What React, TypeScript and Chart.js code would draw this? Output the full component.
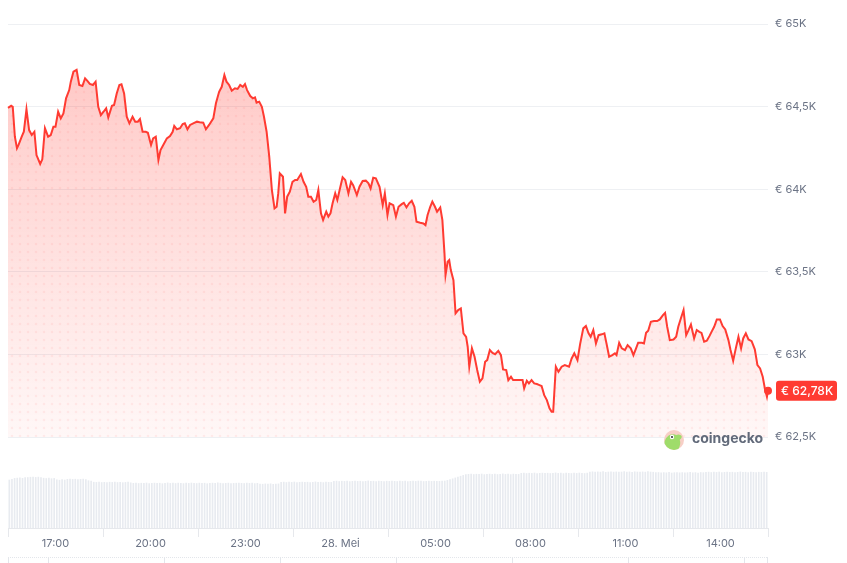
import React, { useEffect, useRef } from "react";
import { Chart, registerables } from "chart.js";

Chart.register(...registerables);

// minutes after 27 May 15:30
const times: number[] = [
  0,6,9,13,17,20,26,30,35,40,45,50,54,61,65,70,76,81,86,90,95,100,105,110,116,119,124,130,135,141,
  146,150,155,161,166,171,176,181,186,190,197,201,206,211,215,220,225,230,236,241,246,250,255,261,265,271,275,280,285,289,
  296,301,307,312,315,320,326,331,335,340,345,351,358,363,
  370,375,381,389,394,400,405,410,414,419,424,430,435,440,445,449,453,459,464,468,471,476,481,485,490,495,500,505,509,512,
  515,521,525,529,534,539,544,548,555,560,565,569,574,579,584,588,593,597,603,607,611,615,620,624,629,634,639,645,650,654,
  661,666,672,678,683,687,692,697,704,710,714,719,723,
  730,735,740,746,750,755,760,765,770,774,781,787,791,795,800,804,809,813,819,823,827,829,833,836,839,844,848,853,858,863,
  868,871,874,879,884,889,894,899,904,908,913,918,923,929,934,938,944,948,953,957,964,970,975,978,983,987,992,997,1002,1007,
  1011,1016,1021,1026,1030,1033,1038,1043,1049,1055,1063,1068,1073,1079,1084,
  1090,1095,1100,1104,1109,1114,1119,1125,1130,1134,1139,1145,1150,1153,1158,1163,1169,1174,1180,1185,
  1190,1194,1201,1205,1209,1213,1218,1224,1230,1235,1241,1245,1249,1254,1261,1266,1270,1275,1280,1285,
  1289,1294,1300,1305,1310,1314,1319,1324,1329,1333,1338,1343,1349,1354,1359,1365,1369,1374,1379,1384,
  1389,1393,1398,1403,1409,1415,1420,1425,1430,1434,1438,1440,
];

// BTC price in EUR
const prices: number[] = [
  64493,64505,64499,64318,64248,64268,64318,64348,64484,64358,64328,64348,64207,64153,64181,64369,64318,64328,64378,64378,
  64469,64429,64459,64550,64600,64651,64711,64722,64631,64625,64671,64657,64637,64631,64651,64499,64449,64469,64490,64435,
  64505,64510,64580,64631,64635,64580,64439,64399,64439,64409,64409,64425,64348,64348,64342,64268,64308,64318,64177,64237,
  64278,64308,64322,64348,64383,64363,64369,64395,64399,64363,64389,64399,64409,64405,
  64403,64363,64389,64429,64520,64590,64620,64691,64651,64631,64596,64611,64607,64631,64620,64637,64600,64564,64550,64556,
  64524,64530,64499,64439,64348,64197,63995,63884,63894,63975,64096,64076,63854,63955,63985,64045,64056,64056,64092,64045,
  64015,63955,63955,63924,63935,63995,63854,63814,63864,63834,63854,63915,63975,63935,64005,64072,64056,63975,64045,64025,
  63965,64015,64050,64052,64036,64005,64070,64066,64015,63904,63975,63844,63915,
  63904,63834,63894,63910,63918,63890,63915,63930,63894,63803,63797,63793,63783,63844,63894,63925,63894,63864,63890,63814,
  63612,63481,63561,63571,63511,63450,63249,63269,63279,63128,63107,63047,62926,63037,62986,62906,62835,62855,62956,62966,
  63027,63010,63002,63022,62996,62910,62906,62845,62865,62845,62845,62845,62845,62795,62841,62825,62845,62825,62821,62815,
  62809,62754,62724,62674,62653,62653,62926,62895,62926,62936,62926,62976,63007,62966,63063,
  63158,63172,63128,63107,63148,63067,63117,63122,63128,63067,62986,62996,63007,62996,63071,63037,63027,63057,63037,62996,
  63037,63071,63071,63067,63131,63144,63198,63202,63202,63212,63238,63252,63168,63087,63091,63107,63168,63219,63269,63117,
  63144,63182,63097,63148,63137,63131,63077,63083,63111,63137,63168,63212,63212,63172,63152,63087,63027,62962,63037,63107,
  63037,63097,63128,63091,63081,63031,62936,62916,62865,62795,62744,62780,
];

// 5-minute volume bars (relative units)
const volumes: number[] = [
  48.0,48.6,
  49.6,49.9,50.1,49.7,50.3,50.5,
  50.8,51.0,50.6,50.9,50.4,
  49.8,49.5,49.9,49.3,49.6,
  48.2,47.8,48.3,48.0,
  48.7,48.9,48.6,48.8,48.4,48.7,48.9,48.3,
  47.3,47.0,
  45.8,45.6,45.9,45.5,45.7,45.4,45.8,45.6,46.0,45.5,45.7,45.3,45.6,45.8,45.2,
  44.7,44.9,44.5,44.8,44.6,45.0,44.4,44.7,44.9,44.6,
  44.8,44.3,44.7,45.1,44.6,44.8,44.5,44.9,44.7,44.4,
  44.8,44.6,45.0,44.7,44.5,44.9,44.6,44.8,44.3,44.7,
  44.9,44.6,45.2,44.8,44.5,44.7,44.9,44.4,44.6,44.8,
  45.0,44.7,44.5,44.9,44.6,44.8,44.4,44.7,
  44.0,43.8,44.1,43.9,44.2,43.7,44.0,44.1,
  45.7,45.9,45.5,45.8,45.6,46.0,45.4,45.7,45.9,45.6,45.8,45.5,45.7,46.1,45.6,45.8,45.4,45.9,45.7,45.6,
  46.7,46.9,46.5,46.8,46.6,47.0,46.4,46.7,46.9,46.6,
  46.8,46.5,46.7,47.1,46.6,46.8,46.4,46.9,46.7,46.5,
  46.8,46.6,47.0,46.7,46.5,46.9,46.6,46.8,46.4,46.7,
  46.9,46.6,47.0,46.8,46.5,46.7,46.9,46.6,46.8,46.7,
  46.6,46.9,
  47.0,47.6,48.3,49.2,50.1,51.0,51.8,52.6,53.3,
  53.7,53.9,53.5,53.8,53.6,54.0,53.4,53.7,53.9,53.6,53.8,53.5,53.7,54.1,53.6,53.8,53.4,53.9,53.7,53.6,
  54.7,54.9,54.5,54.8,54.6,55.0,54.4,54.7,54.9,54.6,
  54.8,54.5,54.7,55.1,54.6,54.8,54.4,54.9,54.7,54.5,
  54.8,54.6,55.0,54.7,54.5,54.9,
  56.0,56.2,55.8,56.1,55.9,56.3,55.7,56.0,56.2,55.9,
  56.1,55.8,56.0,56.4,55.9,56.1,55.7,56.2,56.0,55.8,
  56.1,55.9,56.3,56.0,55.8,
  55.3,55.5,55.1,55.4,55.2,55.6,55.0,55.3,55.5,55.2,55.4,55.1,55.3,55.7,55.2,55.4,55.0,55.5,55.3,
  55.7,55.9,55.5,55.8,55.6,56.0,55.4,55.7,55.9,55.6,55.8,55.5,55.7,56.1,55.6,55.8,55.4,55.9,55.7,55.5,
  55.8,55.6,55.9,55.7,
];

const xTickMinutes: number[] = [90, 270, 450, 630, 810, 990, 1170, 1350];
const xTickLabels: string[] = ["17:00", "20:00", "23:00", "28. Mei", "05:00", "08:00", "11:00", "14:00"];
const yTickValues: number[] = [62500, 63000, 63500, 64000, 64500, 65000];
const navTickMinutes: number[] = [75, 295, 515, 735, 955, 1175, 1395];

const RED = "rgb(255,59,50)";
const LABEL = "#6b7385";

function fmtK(v: number, digits?: number): string {
  const k = v / 1000;
  const s = digits === undefined ? String(k) : k.toFixed(digits);
  return "€ " + s.replace(".", ",") + "K";
}

export default function App() {
  const ref = useRef<HTMLCanvasElement | null>(null);

  useEffect(() => {
    const canvas = ref.current;
    if (!canvas) return;
    Chart.defaults.font.family = "Inter, 'Noto Sans', sans-serif";

    const n = Math.min(times.length, prices.length);
    const lineData = [] as { x: number; y: number }[];
    for (let i = 0; i < n; i++) lineData.push({ x: times[i], y: prices[i] });
    const volData = volumes.map((v, i) => ({ x: i * 5 + 2.5, y: v }));
    const last = lineData[lineData.length - 1];

    // dot texture
    const pc = document.createElement("canvas");
    pc.width = 8;
    pc.height = 8;
    const pctx = pc.getContext("2d")!;
    pctx.fillStyle = "rgba(255,59,50,0.07)";
    pctx.beginPath();
    pctx.arc(4, 4, 1.3, 0, Math.PI * 2);
    pctx.fill();
    const ctx0 = canvas.getContext("2d")!;
    const pattern = ctx0.createPattern(pc, "repeat");

    const decor = {
      id: "decor",
      afterDatasetsDraw(chart: any) {
        const ctx = chart.ctx as CanvasRenderingContext2D;
        const ys = chart.scales.y;
        const xs = chart.scales.x;
        // coingecko watermark
        ctx.save();
        const cx = 674, cy = 440, r = 10;
        ctx.beginPath();
        ctx.arc(cx, cy, r, 0, Math.PI * 2);
        ctx.fillStyle = "#f7cfc6";
        ctx.fill();
        ctx.save();
        ctx.beginPath();
        ctx.arc(cx, cy, r, 0, Math.PI * 2);
        ctx.clip();
        ctx.beginPath();
        ctx.ellipse(cx - 2, cy + 4, 8, 10, 0.3, 0, Math.PI * 2);
        ctx.fillStyle = "#9fdc6a";
        ctx.fill();
        ctx.beginPath();
        ctx.ellipse(cx + 3, cy - 2, 5, 3, -0.4, 0, Math.PI * 2);
        ctx.fill();
        ctx.restore();
        ctx.beginPath();
        ctx.arc(cx - 2, cy - 3, 2.2, 0, Math.PI * 2);
        ctx.fillStyle = "#ffffff";
        ctx.fill();
        ctx.beginPath();
        ctx.arc(cx - 2, cy - 3, 1.1, 0, Math.PI * 2);
        ctx.fillStyle = "#3a3a3a";
        ctx.fill();
        ctx.font = "bold 14px Inter, sans-serif";
        ctx.fillStyle = "#626a7a";
        ctx.textBaseline = "middle";
        ctx.textAlign = "left";
        ctx.fillText("coingecko", 692, 439);
        ctx.restore();

        // last price tag
        const py = ys.getPixelForValue(last.y);
        const px = xs.right + 8;
        ctx.save();
        ctx.fillStyle = RED;
        ctx.beginPath();
        (ctx as any).roundRect(px, py - 10, 61, 20, 3);
        ctx.fill();
        ctx.fillStyle = "#ffffff";
        ctx.font = "500 12px Inter, sans-serif";
        ctx.textBaseline = "middle";
        ctx.textAlign = "left";
        ctx.fillText(fmtK(last.y, 2), px + 5, py + 0.5);
        ctx.restore();
      },
      afterDraw(chart: any) {
        const ctx = chart.ctx as CanvasRenderingContext2D;
        const xs = chart.scales.x;
        ctx.save();
        ctx.strokeStyle = "#e3e6eb";
        ctx.lineWidth = 1;
        ctx.setLineDash([1, 1]);
        ctx.beginPath();
        ctx.moveTo(xs.left, 557.5);
        ctx.lineTo(xs.right, 557.5);
        ctx.stroke();
        ctx.setLineDash([]);
        ctx.beginPath();
        for (const m of navTickMinutes) {
          const x = Math.round(xs.getPixelForValue(m)) + 0.5;
          ctx.moveTo(x, 557);
          ctx.lineTo(x, 563);
        }
        ctx.moveTo(xs.left + 0.5, 557);
        ctx.lineTo(xs.left + 0.5, 563);
        ctx.moveTo(xs.right - 0.5, 557);
        ctx.lineTo(xs.right - 0.5, 563);
        ctx.stroke();
        ctx.restore();
      },
    };

    const chart = new Chart(canvas, {
      type: "line",
      data: {
        datasets: [
          {
            type: "line",
            data: lineData,
            yAxisID: "y",
            borderColor: RED,
            borderWidth: 2,
            tension: 0,
            pointRadius: lineData.map((_, i) => (i === lineData.length - 1 ? 4 : 0)),
            pointBackgroundColor: RED,
            pointBorderWidth: 0,
            clip: 8,
            fill: { value: 62500 },
            backgroundColor: (c: any) => {
              const ca = c.chart.chartArea;
              if (!ca) return "rgba(255,59,50,0.15)";
              const g = c.chart.ctx.createLinearGradient(0, ca.top, 0, 437);
              g.addColorStop(0, "rgba(255,59,50,0.32)");
              g.addColorStop(0.25, "rgba(255,59,50,0.23)");
              g.addColorStop(1, "rgba(255,59,50,0.04)");
              return g;
            },
            order: 0,
          } as any,
          {
            type: "line",
            data: lineData,
            yAxisID: "y",
            borderWidth: 0,
            borderColor: "rgba(0,0,0,0)",
            pointRadius: 0,
            fill: { value: 62500 },
            backgroundColor: pattern,
            order: 1,
          } as any,
          {
            type: "bar",
            data: volData,
            yAxisID: "yv",
            backgroundColor: "#e8ebf0",
            barThickness: 1,
            order: 2,
          } as any,
        ],
      },
      options: {
        responsive: false,
        maintainAspectRatio: false,
        animation: false,
        parsing: true,
        layout: { padding: { left: 8, top: 24, right: 0, bottom: 0 } },
        plugins: {
          legend: { display: false },
          tooltip: { enabled: false },
        },
        scales: {
          x: {
            type: "linear",
            min: 0,
            max: 1440,
            offset: false,
            grid: {
              display: true,
              drawOnChartArea: false,
              drawTicks: true,
              tickLength: 9,
              color: "#e6e8ec",
            },
            border: { display: true, color: "#e6e8ec" },
            ticks: {
              autoSkip: false,
              maxRotation: 0,
              padding: 0,
              color: LABEL,
              font: { size: 11 },
              callback: (v: any) => {
                const i = xTickMinutes.indexOf(Number(v));
                return i >= 0 ? xTickLabels[i] : "";
              },
            },
            afterBuildTicks: (axis: any) => {
              axis.ticks = xTickMinutes.map((v) => ({ value: v }));
            },
            afterFit: (axis: any) => {
              axis.height = 35;
            },
          } as any,
          y: {
            type: "linear",
            position: "right",
            min: 61950,
            max: 65000,
            grid: { color: "#eef0f3", drawTicks: false },
            border: { display: false },
            ticks: {
              padding: 7,
              color: LABEL,
              font: { size: 11 },
              callback: (v: any) => fmtK(Number(v)),
            },
            afterBuildTicks: (axis: any) => {
              axis.ticks = yTickValues.map((v) => ({ value: v }));
            },
            afterFit: (axis: any) => {
              axis.width = 79;
            },
          } as any,
          yv: {
            type: "linear",
            display: false,
            min: 0,
            max: 504,
          },
        },
      },
      plugins: [decor as any],
    });
    return () => chart.destroy();
  }, []);

  return (
    <div style={{ position: "fixed", left: 0, top: 0, width: 847, height: 563, background: "#fff" }}>
      <canvas ref={ref} width={847} height={563} style={{ display: "block", width: 847, height: 563 }} />
    </div>
  );
}
